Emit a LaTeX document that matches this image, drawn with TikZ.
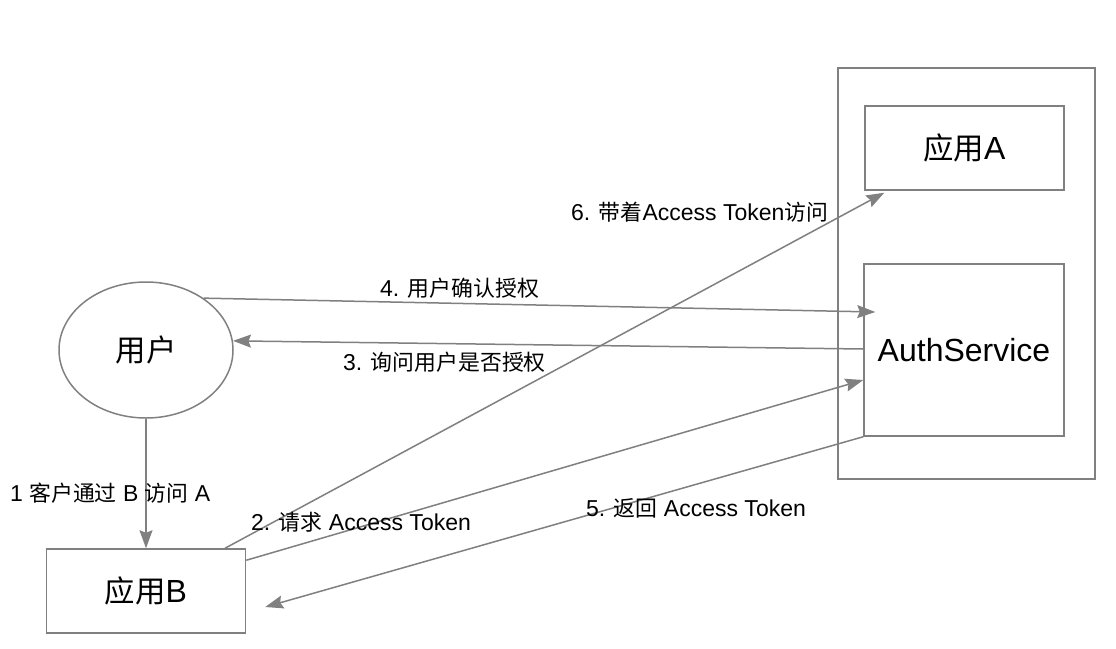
\documentclass[tikz,border=0pt]{standalone}
\usepackage{fontspec}
\setmainfont{Liberation Sans}
\newfontfamily\cjk[Scale=0.95]{Noto Sans CJK SC}
\usetikzlibrary{arrows.meta,shapes.geometric}
\definecolor{lg}{HTML}{808080}
\tikzset{
  box/.style={draw=lg, line width=1.5pt, fill=white, inner sep=0pt, font=\fontsize{32}{36}\selectfont},
  conn/.style={draw=lg, line width=1.5pt, -{Stealth[length=18pt,width=13pt,inset=2.5pt]}},
  lbl/.style={anchor=west, inner sep=0pt, font=\fontsize{23}{26}\selectfont}
}
\begin{document}
\begin{tikzpicture}[x=1pt,y=-1pt]
\useasboundingbox[fill=white] (0,0) rectangle (1116,648);
% container
\node[box, minimum width=257pt, minimum height=411pt] (C) at (966.5,273.5) {};
\node[box, minimum width=199pt, minimum height=84pt] (A) at (964.5,148) {{\cjk 应用}A};
\node[box, minimum width=200pt, minimum height=172pt] (S) at (964,350) {AuthService};
\node[box, ellipse, minimum width=174pt, minimum height=136pt] (U) at (146,350) {\cjk 用户};
\node[box, minimum width=199pt, minimum height=84pt] (B) at (146,591) {{\cjk 应用}B};
% connectors
\draw[conn] (U.south) -- (B.north);
\draw[conn] ([yshift=-12pt]B.north east) -- ([yshift=-30pt]S.west);
\draw[conn] ([yshift=1pt]S.west) -- (U.6);
\draw[conn] (U.42) -- ([xshift=12pt,yshift=38pt]S.west);
\draw[conn] (S.south west) -- ([xshift=19pt,yshift=-16pt]B.east);
\draw[conn] ([xshift=79pt]B.north) -- ([xshift=20pt,yshift=-2pt]A.south west);
% labels
\node[lbl] (l6) at (571,212) {6. {\cjk 带着}Access Token{\cjk 访问}};
\node[lbl] (l4) at (380,288) {4. {\cjk 用户确认授权}};
\node[lbl] (l3) at (343,362) {3. {\cjk 询问用户是否授权}};
\node[lbl] (l1) at (10,493) {1 {\cjk 客户通过} B {\cjk 访问} A};
\node[lbl] (l2) at (251,522) {2. {\cjk 请求} Access Token};
\node[lbl] (l5) at (586,508) {5. {\cjk 返回} Access Token};
\end{tikzpicture}
\end{document}
